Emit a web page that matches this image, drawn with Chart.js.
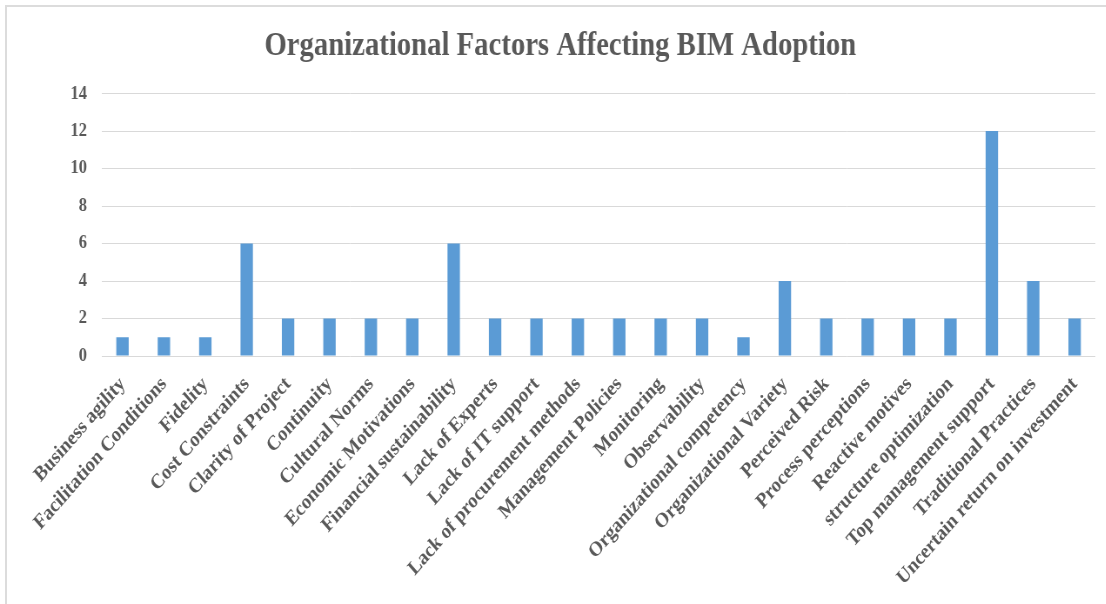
<!DOCTYPE html>
<html>
<head>
<meta charset="utf-8">
<script src="https://cdn.jsdelivr.net/npm/chart.js@4"></script>
<style>
  html, body { margin: 0; padding: 0; background: #fff; overflow: hidden; }
  #wrap { position: relative; width: 1106px; height: 604px; overflow: hidden; }
  #squeeze { position: absolute; left: 0; top: 0; width: 1271px; height: 604px;
             transform: scaleX(0.87); transform-origin: 0 0; }
  #frameTop { position: absolute; left: 5px; top: 5px; width: 1101px; height: 2px; background: #dcdcdc; }
  #frameLeft { position: absolute; left: 5px; top: 5px; width: 2px; height: 599px; background: #dcdcdc; }
</style>
</head>
<body>
<div id="wrap">
  <div id="squeeze"><canvas id="c" width="1271" height="604"></canvas></div>
  <div id="frameTop"></div>
  <div id="frameLeft"></div>
</div>
<script>
const chartTitle = "Organizational Factors Affecting BIM Adoption";
const categories = [
  "Business agility", "Facilitation Conditions", "Fidelity", "Cost Constraints",
  "Clarity of Project", "Continuity", "Cultural Norms", "Economic Motivations",
  "Financial sustainability", "Lack of Experts", "Lack of IT support",
  "Lack of procurement methods", "Management Policies", "Monitoring",
  "Observability", "Organizational competency", "Organizational Variety",
  "Perceived Risk", "Process perceptions", "Reactive motives",
  "structure optimization", "Top management support", "Traditional Practices",
  "Uncertain return on investment"
];
const counts = [1, 1, 1, 6, 2, 2, 2, 2, 6, 2, 2, 2, 2, 2, 2, 1, 4, 2, 2, 2, 2, 12, 4, 2];
const yTicks = [0, 2, 4, 6, 8, 10, 12, 14];

const serif = "'Liberation Serif', 'Times New Roman', serif";
const textColor = "#595959";

new Chart(document.getElementById('c'), {
  type: 'bar',
  data: {
    labels: categories,
    datasets: [{
      data: counts,
      backgroundColor: '#5b9bd5',
      borderWidth: 0,
      categoryPercentage: 1.0,
      barPercentage: 0.3
    }]
  },
  options: {
    responsive: false,
    animation: false,
    layout: { padding: { left: 29, right: 12, top: 0, bottom: 0 } },
    plugins: {
      legend: { display: false },
      tooltip: { enabled: false },
      title: {
        display: true,
        text: chartTitle,
        color: textColor,
        font: { family: serif, size: 33, weight: 'bold' },
        padding: { top: 27, bottom: 27 }
      }
    },
    scales: {
      x: {
        grid: { display: false, drawTicks: false },
        border: { display: false },
        ticks: {
          autoSkip: false,
          minRotation: 45,
          maxRotation: 45,
          padding: 16,
          color: textColor,
          font: { family: serif, size: 21, weight: 'bold' }
        },
        afterFit: (scale) => { scale.height = 248; }
      },
      y: {
        min: 0,
        max: 14,
        afterBuildTicks: (scale) => { scale.ticks = yTicks.map(v => ({ value: v })); },
        grid: { color: '#d9d9d9', lineWidth: 1, drawTicks: false },
        border: { display: false },
        ticks: {
          padding: 17,
          color: textColor,
          font: { family: serif, size: 19, weight: 'bold' }
        },
        afterFit: (scale) => { scale.width = 88; }
      }
    }
  }
});
</script>
</body>
</html>
